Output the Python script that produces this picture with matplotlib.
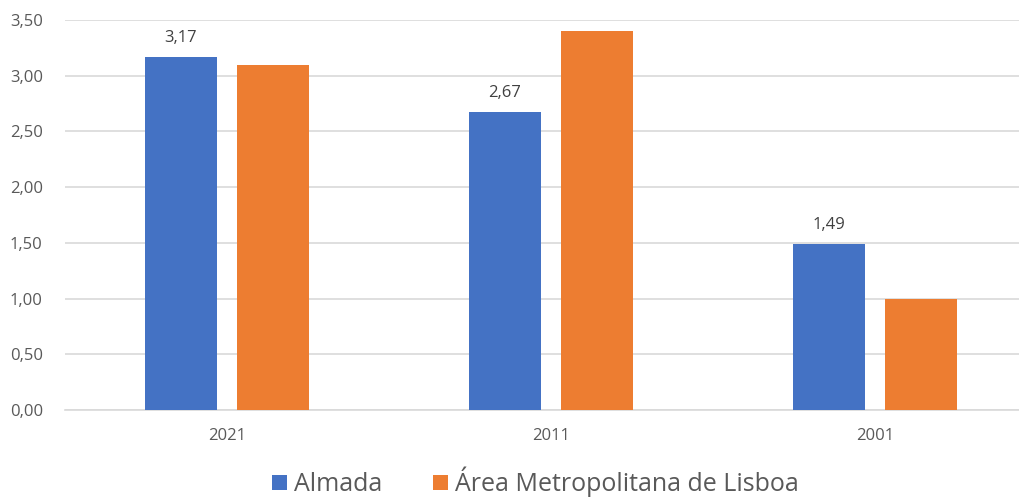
import matplotlib
import matplotlib.pyplot as plt
import numpy as np

matplotlib.use("Agg")

categories = ["2021", "2011", "2001"]
almada = [3.17, 2.67, 1.49]
aml = [3.10, 3.40, 1.00]
series_names = ["Almada", "Área Metropolitana de Lisboa"]
yticks = [0.0, 0.5, 1.0, 1.5, 2.0, 2.5, 3.0, 3.5]

BLUE = "#4472C4"
ORANGE = "#ED7D31"
TEXT = "#595959"

plt.rcParams["font.family"] = ["Open Sans", "DejaVu Sans"]

fig = plt.figure(figsize=(10.2, 4.97), dpi=100)
ax = fig.add_axes([65 / 1020, 87 / 497, 972 / 1020, 390 / 497])

x = np.arange(len(categories))
w = 0.222
off = 0.142
b1 = ax.bar(x - off, almada, w, color=BLUE, label=series_names[0], zorder=3)
ax.bar(x + off, aml, w, color=ORANGE, label=series_names[1], zorder=3)

for rect, v in zip(b1, almada):
    ax.text(rect.get_x() + rect.get_width() / 2, v + 0.1, f"{v:.2f}".replace(".", ","),
            ha="center", va="bottom", fontsize=12, color="#404040")

ax.set_xlim(-0.5, len(categories) - 0.5)
ax.set_ylim(0, 3.5)
ax.set_yticks(yticks)
ax.set_yticklabels([f"{t:.2f}".replace(".", ",") for t in yticks])
ax.set_xticks(x)
ax.set_xticklabels(categories)
ax.tick_params(axis="both", length=0, labelsize=12, colors=TEXT)
ax.tick_params(axis="y", pad=16)
ax.tick_params(axis="x", pad=13)
ax.grid(axis="y", color="#D9D9D9", linewidth=1.2, zorder=0)
for s in ["top", "right", "left"]:
    ax.spines[s].set_visible(False)
ax.spines["bottom"].set_color("#D9D9D9")
ax.spines["bottom"].set_linewidth(1.2)

fig.legend(loc="center", bbox_to_anchor=(0.525, 0.03), ncol=2, frameon=False,
           fontsize=18, handlelength=0.6, handleheight=0.6, handletextpad=0.3,
           columnspacing=2.0, labelcolor=TEXT)

fig.savefig("out.png", dpi=100)
